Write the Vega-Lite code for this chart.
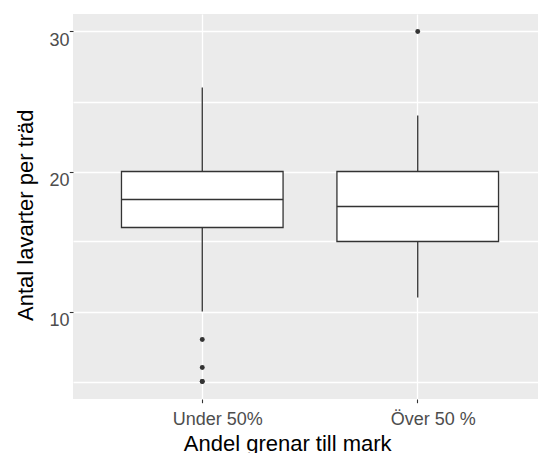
{
  "$schema": "https://vega.github.io/schema/vega-lite/v6.json",
  "autosize": {"type": "none"},
  "padding": {"left": 73, "top": 14, "right": 0, "bottom": 54},
  "width": 465,
  "height": 385,
  "background": "white",
  "config": {
    "view": {"fill": "#EBEBEB", "stroke": null},
    "font": "Liberation Sans",
    "axis": {
      "domain": false,
      "gridColor": "#FFFFFF",
      "gridWidth": 1.3,
      "tickColor": "#333333",
      "tickSize": 3.7,
      "tickWidth": 1.1,
      "labelColor": "#4D4D4D",
      "labelFontSize": 18,
      "labelFont": "Liberation Sans",
      "titleFont": "Liberation Sans",
      "titleFontSize": 22,
      "titleFontWeight": "normal",
      "titleColor": "#000000"
    }
  },
  "datasets": {
    "boxes": [
      {"grupp": "Under 50%", "lower": 10, "q1": 16, "median": 18, "q3": 20, "upper": 26},
      {"grupp": "Över 50 %", "lower": 11, "q1": 15, "median": 17.5, "q3": 20, "upper": 24}
    ],
    "outliers": [
      {"grupp": "Under 50%", "value": 8},
      {"grupp": "Under 50%", "value": 6},
      {"grupp": "Under 50%", "value": 5},
      {"grupp": "Under 50%", "value": 5},
      {"grupp": "Över 50 %", "value": 30}
    ]
  },
  "encoding": {
    "x": {
      "field": "grupp",
      "type": "nominal",
      "sort": ["Under 50%", "Över 50 %"],
      "scale": {"type": "band", "domain": ["Under 50%", "Över 50 %"], "range": [0, 474], "paddingInner": 0.25, "paddingOuter": 0.225},
      "axis": {
        "title": "Andel grenar till mark",
        "labelAngle": 0,
        "labelAlign": "center",
        "labelBaseline": "top",
        "labelPadding": 7.7,
        "labelOffset": 15.5,
        "bandPosition": 0.5,
        "grid": true,
        "titleX": 214.2,
        "titleY": 51,
        "titleAnchor": null,
        "titleAlign": "center",
        "titleBaseline": "alphabetic"
      }
    }
  },
  "layer": [
    {
      "data": {"name": "boxes"},
      "mark": {"type": "rule", "color": "#333333", "strokeWidth": 1.3},
      "encoding": {
        "y": {
          "field": "lower",
          "type": "quantitative",
          "scale": {"domain": [3.75, 31.25], "nice": false, "zero": false},
          "axis": {
            "title": "Antal lavarter per träd",
            "values": [5, 10, 15, 20, 25, 30],
            "labelExpr": "datum.value % 10 === 0 ? datum.label : ''",
            "tickOpacity": {"condition": {"test": "datum.value % 10 === 0", "value": 1}, "value": 0},
            "labelBaseline": "top",
            "labelPadding": 0.3,
            "titleX": -41,
            "titleY": 200.7,
            "titleAngle": -90,
            "titleAlign": "center",
            "titleBaseline": "alphabetic",
            "titleAnchor": null
          }
        },
        "y2": {"field": "upper"}
      }
    },
    {
      "data": {"name": "boxes"},
      "mark": {"type": "bar", "fill": "#FFFFFF", "stroke": "#333333", "strokeWidth": 1.3},
      "encoding": {
        "y": {"field": "q1", "type": "quantitative"},
        "y2": {"field": "q3"}
      }
    },
    {
      "data": {"name": "boxes"},
      "mark": {"type": "tick", "color": "#333333", "size": 161.6, "thickness": 1.3, "orient": "horizontal", "opacity": 1},
      "encoding": {
        "y": {"field": "median", "type": "quantitative"}
      }
    },
    {
      "data": {"name": "outliers"},
      "mark": {"type": "point", "filled": true, "color": "#333333", "size": 24, "opacity": 1},
      "encoding": {
        "y": {"field": "value", "type": "quantitative"}
      }
    }
  ]
}
